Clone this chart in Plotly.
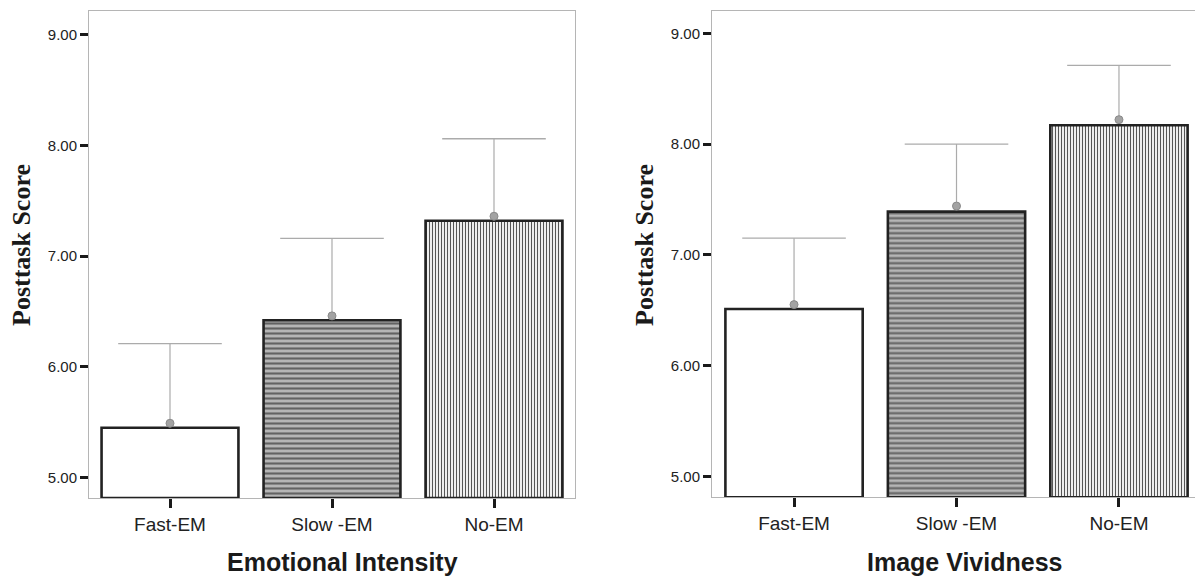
import plotly.graph_objects as go

# ---------------- data ----------------
categories = ["Fast-EM", "Slow -EM", "No-EM"]

ei_bar = [5.45, 6.42, 7.32]      # Emotional Intensity bar heights
ei_mean = [5.49, 6.46, 7.36]     # mean markers
ei_upper = [6.21, 7.16, 8.06]    # upper error limits

iv_bar = [6.51, 7.39, 8.17]      # Image Vividness bar heights
iv_mean = [6.55, 7.44, 8.22]
iv_upper = [7.15, 8.00, 8.71]

y_ticks = [5.0, 6.0, 7.0, 8.0, 9.0]
y_tick_text = ["5.00", "6.00", "7.00", "8.00", "9.00"]

left_title = "Emotional Intensity"
right_title = "Image Vividness"
y_title = "Posttask Score"

# ---------------- styling ----------------
W, H = 1195, 578
Y_MIN_L, Y_MAX_L = 4.815, 9.214
Y_MIN_R, Y_MAX_R = 4.81, 9.204
SANS = "Liberation Sans, Arial, sans-serif"
SERIF = "Liberation Serif, Times New Roman, serif"
SPINE = "#b5b5b5"

bar_styles = [
    dict(color="white", pattern=dict(shape="")),
    dict(color="#b0b0b0", pattern=dict(shape="-", bgcolor="#b5b5b5", fgcolor="#626262",
                                       size=5, solidity=0.42, fillmode="replace")),
    dict(color="white", pattern=dict(shape="|", bgcolor="white", fgcolor="#555555",
                                     size=3, solidity=0.4, fillmode="replace")),
]

fig = go.Figure()


def add_panel(bars, means, uppers, xa, ya, ymin):
    for i, cat in enumerate(categories):
        st = bar_styles[i]
        fig.add_trace(go.Bar(
            x=[cat], y=[bars[i] - ymin], base=ymin,
            xaxis=xa, yaxis=ya, width=0.845,
            marker=dict(color=st["color"], line=dict(color="#222222", width=2.6),
                        pattern=st["pattern"]),
            showlegend=False, hoverinfo="skip",
        ))
    # whisker (vertical line, no caps) from mean up to upper limit
    fig.add_trace(go.Scatter(
        x=categories, y=means, xaxis=xa, yaxis=ya, mode="markers",
        marker=dict(symbol="circle", size=8, color="#a3a3a3",
                    line=dict(color="#8a8a8a", width=1)),
        error_y=dict(type="data", symmetric=False,
                     array=[u - m for u, m in zip(uppers, means)],
                     arrayminus=[0, 0, 0], color="#ababab",
                     thickness=1.2, width=0),
        showlegend=False, hoverinfo="skip",
    ))
    # cap at upper limit
    fig.add_trace(go.Scatter(
        x=categories, y=uppers, xaxis=xa, yaxis=ya, mode="markers",
        marker=dict(symbol="line-ew", size=74, color="#ababab",
                    line=dict(color="#ababab", width=1.3)),
        showlegend=False, hoverinfo="skip",
    ))


add_panel(ei_bar, ei_mean, ei_upper, "x", "y", Y_MIN_L)
add_panel(iv_bar, iv_mean, iv_upper, "x2", "y2", Y_MIN_R)

ydom = [1 - 498 / H, 1 - 11 / H]
ydom2 = [1 - 497.3 / H, 1 - 10.7 / H]

xcommon = dict(showline=True, linecolor=SPINE, linewidth=1, mirror=True,
               ticks="outside", ticklen=9, tickwidth=3, tickcolor="#1a1a1a",
               tickfont=dict(family=SANS, size=19, color="#222222"),
               showgrid=False, zeroline=False, fixedrange=True)
ycommon = dict(showline=True, linecolor=SPINE, linewidth=1,
               ticks="outside", ticklen=8, tickwidth=3, tickcolor="#1a1a1a",
               tickvals=y_ticks, ticktext=y_tick_text,
               tickfont=dict(family=SANS, size=15, color="#222222"),
               showgrid=False, zeroline=False, fixedrange=True)

fig.update_layout(
    width=W, height=H, template="none",
    paper_bgcolor="white", plot_bgcolor="white",
    margin=dict(l=0, r=0, t=0, b=0),
    barmode="overlay",
    xaxis=dict(domain=[89 / W, 575 / W], range=[-0.5, 2.5], anchor="y", **xcommon),
    yaxis=dict(domain=ydom, range=[Y_MIN_L, Y_MAX_L], anchor="x", mirror=True, **ycommon),
    xaxis2=dict(domain=[712 / W, 1.0], range=[-0.505, 2.468], anchor="y2", **xcommon),
    yaxis2=dict(domain=ydom2, range=[Y_MIN_R, Y_MAX_R], anchor="x2", mirror=False, **ycommon),
    annotations=[
        dict(text=left_title, x=342 / W, y=1 - 562 / H, xref="paper", yref="paper",
             showarrow=False, font=dict(family=SANS, size=25, color="#1a1a1a", weight="bold"),
             xanchor="center", yanchor="middle"),
        dict(text=right_title, x=964 / W, y=1 - 562 / H, xref="paper", yref="paper",
             showarrow=False, font=dict(family=SANS, size=25, color="#1a1a1a", weight="bold"),
             xanchor="center", yanchor="middle"),
        dict(text=y_title, x=22 / W, y=1 - 245 / H, xref="paper", yref="paper",
             showarrow=False, textangle=-90,
             font=dict(family=SERIF, size=26, color="#1a1a1a", weight="bold"),
             xanchor="center", yanchor="middle"),
        dict(text=y_title, x=645 / W, y=1 - 245 / H, xref="paper", yref="paper",
             showarrow=False, textangle=-90,
             font=dict(family=SERIF, size=26, color="#1a1a1a", weight="bold"),
             xanchor="center", yanchor="middle"),
    ],
)

fig.write_html("out.html", config={"displayModeBar": False},
               post_script="document.body.style.margin='0';document.body.style.overflow='hidden';")
